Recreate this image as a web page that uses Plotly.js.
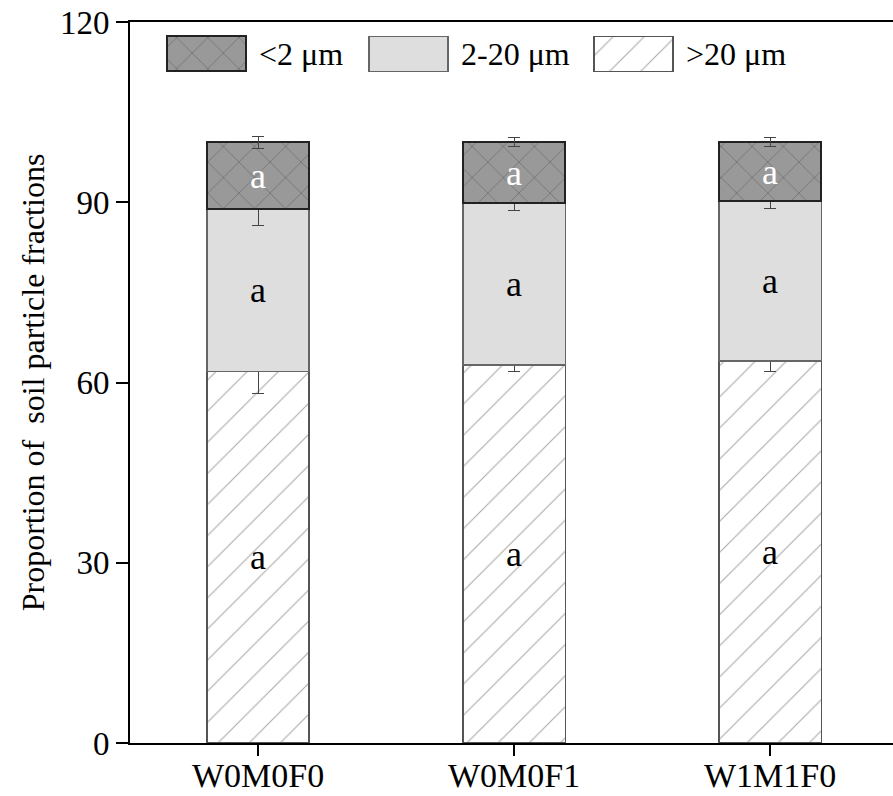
<!DOCTYPE html>
<html>
<head>
<meta charset="utf-8">
<script src="https://cdn.plot.ly/plotly-3.0.1.min.js"></script>
<style>html,body{margin:0;padding:0;background:#fff;}</style>
</head>
<body>
<div id="chart" style="width:893px;height:796px;"></div>
<script>
// ---- data ----
const treatments = ['W0M0F0', 'W0M0F1', 'W1M1F0'];
const sandValues = [61.8, 62.9, 63.6];      // >20 μm
const sandErrors = [3.6, 1.1, 1.7];
const siltValues = [27.1, 27.0, 26.6];      // 2-20 μm
const siltErrors = [2.7, 1.2, 1.3];
const clayValues = [11.1, 10.1, 9.8];       // <2 μm
const clayErrors = [1.0, 0.7, 0.7];
const sandLetters = ['a', 'a', 'a'];
const siltLetters = ['a', 'a', 'a'];
const clayLetters = ['a', 'a', 'a'];
const seriesNames = ['>20 μm', '2-20 μm', '<2 μm'];
const yTicks = [0, 30, 60, 90, 120];

// ---- styles ----
const FONT = 'Liberation Serif';
const barWidth = 0.4;
const errStyle = {type: 'data', color: '#444', thickness: 1, width: 6};
const sandMarker = {color: '#ffffff', line: {color: '#555', width: 1.5},
  pattern: {shape: '/', size: 22, solidity: 0.05, fgcolor: '#555', bgcolor: '#ffffff', fillmode: 'overlay'}};
const siltMarker = {color: '#dedede', line: {color: '#666', width: 1.5}};
const clayMarker = {color: '#999999', line: {color: '#222', width: 2},
  pattern: {shape: 'x', size: 22, solidity: 0.05, fgcolor: '#222', bgcolor: '#999999', fillmode: 'overlay'}};

// legend layout (pixel frame of the overlay legend axes)
const legendOrder = [2, 1, 0];           // <2, 2-20, >20
const legendMarkers = [sandMarker, siltMarker, clayMarker];
const legendBoxLeft = [167, 369, 594];
const legendBoxW = 79;
const legendRowY = 54;
const legendBoxH = 35;
const legendGap = 11;

const traces = [
  {
    type: 'bar', name: seriesNames[0], x: treatments, y: sandValues, width: barWidth,
    text: sandLetters, textposition: 'inside', insidetextanchor: 'middle', textangle: 0,
    constraintext: 'none', textfont: {family: FONT, size: 36, color: '#000'},
    marker: sandMarker, error_y: Object.assign({array: sandErrors}, errStyle),
    hoverinfo: 'skip', showlegend: false
  },
  {
    type: 'bar', name: seriesNames[1], x: treatments, y: siltValues, width: barWidth,
    text: siltLetters, textposition: 'inside', insidetextanchor: 'middle', textangle: 0,
    constraintext: 'none', textfont: {family: FONT, size: 36, color: '#000'},
    marker: siltMarker, error_y: Object.assign({array: siltErrors}, errStyle),
    hoverinfo: 'skip', showlegend: false
  },
  {
    type: 'bar', name: seriesNames[2], x: treatments, y: clayValues, width: barWidth,
    text: clayLetters, textposition: 'inside', insidetextanchor: 'middle', textangle: 0,
    constraintext: 'none', textfont: {family: FONT, size: 36, color: '#fff'},
    marker: clayMarker, error_y: Object.assign({array: clayErrors}, errStyle),
    hoverinfo: 'skip', showlegend: false
  }
];

// legend swatches drawn on a hidden overlay axis in pixel units
const annotations = [];
legendOrder.forEach(function (si, k) {
  traces.push({
    type: 'bar', orientation: 'h', xaxis: 'x2', yaxis: 'y2',
    base: [legendBoxLeft[k]], x: [legendBoxW], y: [legendRowY], width: [legendBoxH],
    marker: legendMarkers[si], showlegend: false, hoverinfo: 'skip'
  });
  annotations.push({
    xref: 'x2', yref: 'y2', x: legendBoxLeft[k] + legendBoxW + legendGap, y: legendRowY,
    xanchor: 'left', yanchor: 'middle', showarrow: false, text: seriesNames[si],
    font: {family: FONT, size: 32, color: '#000'}
  });
});

// category labels under the axis
treatments.forEach(function (t) {
  annotations.push({
    xref: 'x', yref: 'paper', x: t, y: 0, yanchor: 'middle', yshift: -32,
    showarrow: false, text: t, font: {family: FONT, size: 34, color: '#000'}
  });
});

const layout = {
  width: 893, height: 796,
  margin: {l: 130, r: 0, t: 22, b: 53},
  paper_bgcolor: '#fff', plot_bgcolor: '#fff',
  barmode: 'stack',
  font: {family: FONT, color: '#000', size: 32},
  showlegend: false,
  annotations: annotations,
  xaxis: {
    type: 'category', range: [-0.5, 2.48],
    showline: true, linecolor: '#000', linewidth: 2, mirror: true,
    ticks: 'outside', ticklen: 11, tickwidth: 2, tickcolor: '#000',
    showgrid: false, zeroline: false, showticklabels: false
  },
  yaxis: {
    range: [0, 120], tickvals: yTicks, ticktext: yTicks.map(String),
    showline: true, linecolor: '#000', linewidth: 2,
    ticks: 'outside', ticklen: 12, tickwidth: 2, tickcolor: '#000',
    showgrid: false, zeroline: false,
    tickfont: {family: FONT, size: 33, color: '#000'},
    title: {text: 'Proportion of  soil particle fractions', font: {family: FONT, size: 32, color: '#000'}, standoff: 6}
  },
  xaxis2: {overlaying: 'x', anchor: 'y2', range: [130, 893], visible: false, fixedrange: true},
  yaxis2: {overlaying: 'y', anchor: 'x2', range: [743.3, 22], visible: false, fixedrange: true}
};

Plotly.newPlot('chart', traces, layout, {displayModeBar: false, staticPlot: true});
</script>
</body>
</html>
